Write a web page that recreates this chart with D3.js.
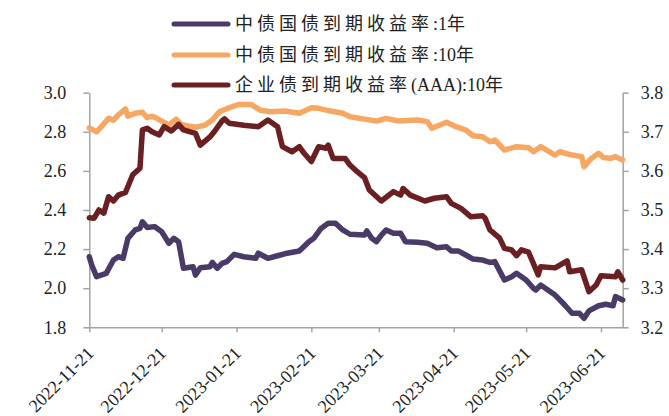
<!DOCTYPE html>
<html>
<head>
<meta charset="utf-8">
<script src="https://cdn.jsdelivr.net/npm/d3@7/dist/d3.min.js"></script>
<style>
  html, body { margin: 0; padding: 0; background: #fff; }
  svg { display: block; }
  .axis text { font-family: "Liberation Serif", "Times New Roman", serif; font-size: 18px; fill: #222; }
  .legend text { font-family: "Liberation Serif", "Noto Sans CJK SC", serif; font-size: 18px; fill: #222; }
</style>
</head>
<body>
<svg id="chart" width="669" height="416"></svg>
<script>
// 中债国债到期收益率:1年 (left axis, %)
const y1Dates = ["2022-11-21","2022-11-22","2022-11-24","2022-11-28","2022-12-01","2022-12-03","2022-12-05","2022-12-07","2022-12-10","2022-12-12","2022-12-13","2022-12-15","2022-12-18","2022-12-21","2022-12-24","2022-12-26","2022-12-28","2022-12-30","2023-01-03","2023-01-04","2023-01-06","2023-01-10","2023-01-11","2023-01-13","2023-01-15","2023-01-17","2023-01-20","2023-01-24","2023-01-29","2023-01-30","2023-02-03","2023-02-07","2023-02-11","2023-02-16","2023-02-20","2023-02-22","2023-02-25","2023-02-28","2023-03-03","2023-03-06","2023-03-09","2023-03-15","2023-03-16","2023-03-18","2023-03-20","2023-03-22","2023-03-24","2023-03-27","2023-03-30","2023-04-01","2023-04-06","2023-04-10","2023-04-14","2023-04-18","2023-04-20","2023-04-23","2023-04-26","2023-04-29","2023-05-03","2023-05-06","2023-05-08","2023-05-12","2023-05-15","2023-05-17","2023-05-21","2023-05-24","2023-05-25","2023-05-27","2023-05-30","2023-06-02","2023-06-06","2023-06-09","2023-06-12","2023-06-14","2023-06-16","2023-06-20","2023-06-23","2023-06-26","2023-06-27","2023-06-30"];
const y1Values = [2.161,2.119,2.059,2.076,2.144,2.161,2.153,2.255,2.298,2.306,2.34,2.31,2.315,2.289,2.23,2.255,2.238,2.102,2.11,2.067,2.105,2.11,2.132,2.102,2.127,2.136,2.173,2.161,2.153,2.179,2.153,2.166,2.179,2.19,2.238,2.255,2.306,2.332,2.332,2.298,2.276,2.272,2.293,2.255,2.238,2.272,2.298,2.281,2.281,2.238,2.235,2.23,2.207,2.212,2.19,2.19,2.17,2.149,2.144,2.132,2.136,2.042,2.059,2.076,2.042,2.0,1.991,2.016,1.991,1.965,1.914,1.872,1.872,1.846,1.884,1.91,1.918,1.91,1.957,1.94];

// 中债国债到期收益率:10年 (left axis, %)
const y10Dates = ["2022-11-21","2022-11-24","2022-11-26","2022-11-29","2022-12-01","2022-12-03","2022-12-06","2022-12-07","2022-12-10","2022-12-13","2022-12-15","2022-12-17","2022-12-19","2022-12-21","2022-12-24","2022-12-27","2022-12-29","2023-01-01","2023-01-04","2023-01-08","2023-01-11","2023-01-14","2023-01-19","2023-01-22","2023-01-27","2023-01-31","2023-02-04","2023-02-10","2023-02-16","2023-02-21","2023-02-24","2023-03-01","2023-03-06","2023-03-09","2023-03-15","2023-03-20","2023-03-24","2023-03-29","2023-04-06","2023-04-10","2023-04-12","2023-04-18","2023-04-22","2023-04-26","2023-04-29","2023-05-03","2023-05-06","2023-05-08","2023-05-12","2023-05-17","2023-05-22","2023-05-24","2023-05-27","2023-06-02","2023-06-04","2023-06-09","2023-06-13","2023-06-14","2023-06-17","2023-06-20","2023-06-22","2023-06-25","2023-06-27","2023-06-30"];
const y10Values = [2.82,2.80,2.826,2.869,2.86,2.886,2.917,2.88,2.895,2.90,2.872,2.88,2.869,2.855,2.835,2.865,2.838,2.83,2.823,2.835,2.86,2.903,2.928,2.94,2.94,2.91,2.903,2.906,2.895,2.923,2.92,2.906,2.895,2.877,2.865,2.855,2.869,2.855,2.86,2.852,2.818,2.849,2.826,2.809,2.78,2.775,2.749,2.758,2.707,2.724,2.719,2.698,2.724,2.681,2.698,2.681,2.673,2.621,2.664,2.69,2.668,2.664,2.673,2.656];

// 企业债到期收益率(AAA):10年 (right axis, %)
const aaaDates = ["2022-11-21","2022-11-23","2022-11-25","2022-11-27","2022-11-29","2022-12-01","2022-12-03","2022-12-06","2022-12-07","2022-12-09","2022-12-12","2022-12-13","2022-12-15","2022-12-17","2022-12-20","2022-12-22","2022-12-25","2022-12-28","2022-12-30","2023-01-04","2023-01-06","2023-01-10","2023-01-12","2023-01-15","2023-01-16","2023-01-18","2023-01-24","2023-01-30","2023-02-03","2023-02-07","2023-02-09","2023-02-13","2023-02-16","2023-02-18","2023-02-21","2023-02-24","2023-02-27","2023-02-28","2023-03-02","2023-03-07","2023-03-09","2023-03-12","2023-03-15","2023-03-17","2023-03-22","2023-03-27","2023-03-30","2023-03-31","2023-04-03","2023-04-09","2023-04-13","2023-04-18","2023-04-20","2023-04-24","2023-04-28","2023-05-03","2023-05-04","2023-05-06","2023-05-10","2023-05-12","2023-05-15","2023-05-17","2023-05-19","2023-05-22","2023-05-26","2023-05-27","2023-06-02","2023-06-07","2023-06-08","2023-06-13","2023-06-16","2023-06-19","2023-06-21","2023-06-27","2023-06-28","2023-06-30"];
const aaaValues = [3.48,3.479,3.50,3.492,3.534,3.523,3.538,3.545,3.56,3.59,3.607,3.705,3.709,3.70,3.692,3.713,3.702,3.719,3.705,3.696,3.666,3.687,3.702,3.728,3.733,3.722,3.717,3.713,3.73,3.713,3.662,3.649,3.662,3.645,3.624,3.662,3.658,3.666,3.632,3.632,3.615,3.598,3.583,3.551,3.523,3.547,3.538,3.555,3.538,3.523,3.53,3.534,3.517,3.504,3.483,3.485,3.479,3.449,3.428,3.402,3.398,3.383,3.398,3.392,3.334,3.355,3.352,3.37,3.342,3.347,3.291,3.308,3.332,3.329,3.342,3.321];

// Axis ticks
const xTickLabels = ["2022-11-21","2022-12-21","2023-01-21","2023-02-21","2023-03-21","2023-04-21","2023-05-21","2023-06-21"];
const leftTicks = [1.8, 2.0, 2.2, 2.4, 2.6, 2.8, 3.0];
const rightTicks = [3.2, 3.3, 3.4, 3.5, 3.6, 3.7, 3.8];
const xDomain = ["2022-11-21", "2023-06-30"];

const seriesNames = ["中债国债到期收益率:1年", "中债国债到期收益率:10年", "企业债到期收益率(AAA):10年"];
const seriesColors = ["#4a3a68", "#f6a762", "#6a2022"];

const parse = d3.timeParse("%Y-%m-%d");
const svg = d3.select("#chart");

const plot = { left: 89.3, right: 622.7, top: 92.7, bottom: 327.3 };

const x = d3.scaleTime().domain(xDomain.map(parse)).range([plot.left, plot.right]);
const yL = d3.scaleLinear().domain([1.8, 3.0]).range([plot.bottom, plot.top]);
const yR = d3.scaleLinear().domain([3.2, 3.8]).range([plot.bottom, plot.top]);

const axisColor = "#a3a3a3";

function styleAxis(g) {
  g.selectAll(".domain").attr("stroke", axisColor).attr("stroke-width", 1.5);
  g.selectAll(".tick line").attr("stroke", axisColor).attr("stroke-width", 1.5);
}

// Left axis
svg.append("g").attr("class", "axis")
  .attr("transform", `translate(${plot.left},0)`)
  .call(d3.axisLeft(yL).tickValues(leftTicks).tickFormat(d3.format(".1f")).tickSize(6).tickSizeOuter(0).tickPadding(17))
  .call(styleAxis);

// Right axis
svg.append("g").attr("class", "axis")
  .attr("transform", `translate(${plot.right},0)`)
  .call(d3.axisRight(yR).tickValues(rightTicks).tickFormat(d3.format(".1f")).tickSize(6).tickSizeOuter(0).tickPadding(12))
  .call(styleAxis);

// Bottom axis with rotated date labels
const xAxisG = svg.append("g").attr("class", "axis")
  .attr("transform", `translate(0,${plot.bottom})`)
  .call(d3.axisBottom(x).tickValues(xTickLabels.map(parse)).tickFormat(d3.timeFormat("%Y-%m-%d")).tickSize(5).tickSizeOuter(0))
  .call(styleAxis);
xAxisG.selectAll(".tick text")
  .attr("text-anchor", "end")
  .attr("dy", null)
  .attr("y", 0)
  .attr("transform", "translate(5,27) rotate(-45)");

// Series lines
const series = [
  { dates: y1Dates, values: y1Values, scale: yL },
  { dates: y10Dates, values: y10Values, scale: yL },
  { dates: aaaDates, values: aaaValues, scale: yR }
];

series.forEach((s, i) => {
  const pts = s.dates.map((d, j) => [parse(d), s.values[j]]);
  const line = d3.line().x(d => x(d[0])).y(d => s.scale(d[1]));
  svg.append("path")
    .datum(pts)
    .attr("d", line)
    .attr("fill", "none")
    .attr("stroke", seriesColors[i])
    .attr("stroke-width", 5.5)
    .attr("stroke-linejoin", "round")
    .attr("stroke-linecap", "round");
});

// Legend: CJK runs are tracked wider than the Latin runs
const cjk = /[\u3400-\u9fff]/;
function runs(str) {
  const out = [];
  for (const ch of str) {
    const isC = cjk.test(ch);
    if (out.length && out[out.length - 1].c === isC) out[out.length - 1].t += ch;
    else out.push({ t: ch, c: isC });
  }
  return out;
}

const legend = svg.append("g").attr("class", "legend");
const legendRows = [24, 55, 85];
seriesNames.forEach((name, i) => {
  const g = legend.append("g").attr("transform", `translate(0,${legendRows[i]})`);
  g.append("line")
    .attr("x1", 174).attr("x2", 228)
    .attr("y1", 0).attr("y2", 0)
    .attr("stroke", seriesColors[i])
    .attr("stroke-width", 5)
    .attr("stroke-linecap", "round");
  const t = g.append("text")
    .attr("x", 235).attr("y", 0).attr("dy", "0.35em");
  runs(name).forEach(r => {
    t.append("tspan")
      .attr("letter-spacing", r.c ? "4px" : "0px")
      .text(r.t);
  });
});
</script>
</body>
</html>
